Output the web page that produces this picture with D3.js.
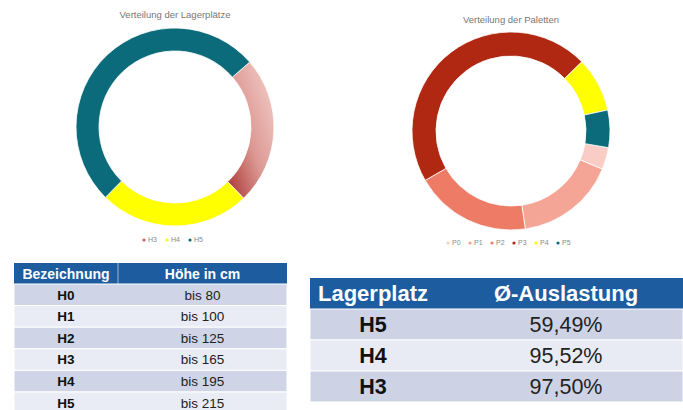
<!DOCTYPE html>
<html>
<head>
<meta charset="utf-8">
<script src="https://cdn.jsdelivr.net/npm/d3@7"></script>
<style>
  body { margin: 0; background: #fff; }
  svg { display: block; font-family: "Liberation Sans", Arial, sans-serif; }
</style>
</head>
<body>
<div id="chart"></div>
<script>
// Verteilung der Lagerplätze (share in %)
const lagerLabels = ["H3", "H4", "H5"];
const lagerShare = [24.2, 24.6, 51.2];

// Verteilung der Paletten (share in %)
const palLabels = ["P0", "P1", "P2", "P3", "P4", "P5"];
const palShare = [3.6, 16.4, 19.0, 46.0, 8.9, 6.1];

// Höhentabelle
const hoeheLabels = ["H0", "H1", "H2", "H3", "H4", "H5"];
const hoeheWerte = ["bis 80", "bis 100", "bis 125", "bis 165", "bis 195", "bis 215"];

// Auslastung
const auslLabels = ["H5", "H4", "H3"];
const auslWerte = ["59,49%", "95,52%", "97,50%"];

const width = 683, height = 410;
const svg = d3.select("#chart").append("svg")
    .attr("width", width).attr("height", height);

const defs = svg.append("defs");
const grad = defs.append("linearGradient").attr("id", "h3grad")
    .attr("x1", "0%").attr("y1", "100%").attr("x2", "100%").attr("y2", "0%");
grad.append("stop").attr("offset", "0%").attr("stop-color", "#a8322f");
grad.append("stop").attr("offset", "45%").attr("stop-color", "#dc9893");
grad.append("stop").attr("offset", "100%").attr("stop-color", "#f6d3cd");

function donut(cx, cy, rOut, rIn, labels, values, colors, start, title, titleY, legendY, legendStep) {
    const g = svg.append("g").attr("transform", "translate(" + cx + "," + cy + ")");
    const pie = d3.pie().sort(null).startAngle(start).endAngle(start + 2 * Math.PI);
    const arc = d3.arc().innerRadius(rIn).outerRadius(rOut);
    const color = d3.scaleOrdinal().domain(labels).range(colors);

    g.selectAll("path").data(pie(values)).enter().append("path")
        .attr("d", arc)
        .attr("fill", (d, i) => color(labels[i]))
        .attr("stroke", "#fff")
        .attr("stroke-width", 0.8);

    svg.append("text").attr("x", cx).attr("y", titleY)
        .attr("text-anchor", "middle").attr("font-size", 9.5).attr("fill", "#777")
        .text(title);

    const lx = d3.scalePoint().domain(labels)
        .range([cx - legendStep * (labels.length - 1) / 2 - 4, cx + legendStep * (labels.length - 1) / 2 - 4]);
    const leg = svg.append("g").selectAll("g").data(labels).enter().append("g")
        .attr("transform", d => "translate(" + lx(d) + "," + legendY + ")");
    leg.append("circle").attr("r", 1.6).attr("cx", -4).attr("cy", -2)
        .attr("fill", d => d === "H3" ? "#c4605c" : color(d));
    leg.append("text").attr("x", 0).attr("y", 0).attr("font-size", 7).attr("fill", "#888").text(d => d);
}

donut(175, 127, 99, 76, lagerLabels, lagerShare,
    ["url(#h3grad)", "#ffff00", "#0b6b7a"], 49 * Math.PI / 180,
    "Verteilung der Lagerplätze", 18, 242, 23);

donut(511, 131, 99, 75, palLabels, palShare,
    ["#f9cdc6", "#f4a596", "#ee7b66", "#b02812", "#ffff00", "#0b6b7a"], 99.7 * Math.PI / 180,
    "Verteilung der Paletten", 23, 245, 22);

// Tabelle Höhe
const t1 = { x0: 14, x1: 118, x2: 287, top: 263, head: 21 };
const y1 = d3.scaleBand().domain(hoeheLabels).range([t1.top + t1.head, t1.top + t1.head + 21.6 * 6]);
const tab1 = svg.append("g");
tab1.append("rect").attr("x", t1.x0).attr("y", t1.top).attr("width", t1.x2 - t1.x0).attr("height", t1.head).attr("fill", "#1d5d9f");
tab1.append("line").attr("x1", t1.x1).attr("x2", t1.x1).attr("y1", t1.top).attr("y2", t1.top + t1.head).attr("stroke", "#9fb6d3").attr("stroke-width", 1);
tab1.append("text").attr("x", (t1.x0 + t1.x1) / 2).attr("y", t1.top + 15.5).attr("text-anchor", "middle")
    .attr("font-size", 14).attr("font-weight", "bold").attr("fill", "#fff").text("Bezeichnung");
tab1.append("text").attr("x", (t1.x1 + t1.x2) / 2).attr("y", t1.top + 15.5).attr("text-anchor", "middle")
    .attr("font-size", 14).attr("font-weight", "bold").attr("fill", "#fff").text("Höhe in cm");
const rows1 = tab1.selectAll("g.row").data(hoeheLabels).enter().append("g").attr("class", "row");
rows1.append("rect").attr("x", t1.x0).attr("y", d => y1(d)).attr("width", t1.x2 - t1.x0).attr("height", y1.bandwidth())
    .attr("fill", (d, i) => i % 2 === 0 ? "#cfd5e6" : "#e9ecf4").attr("stroke", "#fff").attr("stroke-width", 1);
rows1.append("text").attr("x", (t1.x0 + t1.x1) / 2).attr("y", d => y1(d) + 15.5).attr("text-anchor", "middle")
    .attr("font-size", 13.5).attr("font-weight", "bold").attr("fill", "#111").text(d => d);
rows1.append("text").attr("x", (t1.x1 + t1.x2) / 2).attr("y", d => y1(d) + 15.5).attr("text-anchor", "middle")
    .attr("font-size", 13.5).attr("fill", "#222").text((d, i) => hoeheWerte[i]);

// Tabelle Auslastung
const t2 = { x0: 310, x1: 470, x2: 683, top: 278, head: 31 };
const y2 = d3.scaleBand().domain(auslLabels).range([t2.top + t2.head, t2.top + t2.head + 31 * 3]);
const tab2 = svg.append("g");
tab2.append("rect").attr("x", t2.x0).attr("y", t2.top).attr("width", t2.x2 - t2.x0).attr("height", t2.head).attr("fill", "#1d5d9f");
tab2.append("text").attr("x", 373).attr("y", t2.top + 23).attr("text-anchor", "middle")
    .attr("font-size", 22).attr("font-weight", "bold").attr("fill", "#fff").text("Lagerplatz");
tab2.append("text").attr("x", 566).attr("y", t2.top + 23).attr("text-anchor", "middle")
    .attr("font-size", 22).attr("font-weight", "bold").attr("fill", "#fff").text("Ø-Auslastung");
const rows2 = tab2.selectAll("g.row").data(auslLabels).enter().append("g").attr("class", "row");
rows2.append("rect").attr("x", t2.x0).attr("y", d => y2(d)).attr("width", t2.x2 - t2.x0).attr("height", y2.bandwidth())
    .attr("fill", (d, i) => i % 2 === 0 ? "#cdd3e4" : "#e8ebf3").attr("stroke", "#fff").attr("stroke-width", 1);
rows2.append("text").attr("x", 373).attr("y", d => y2(d) + 23).attr("text-anchor", "middle")
    .attr("font-size", 21.5).attr("font-weight", "bold").attr("fill", "#111").text(d => d);
rows2.append("text").attr("x", 566).attr("y", d => y2(d) + 23).attr("text-anchor", "middle")
    .attr("font-size", 21.5).attr("fill", "#222").text((d, i) => auslWerte[i]);
</script>
</body>
</html>
